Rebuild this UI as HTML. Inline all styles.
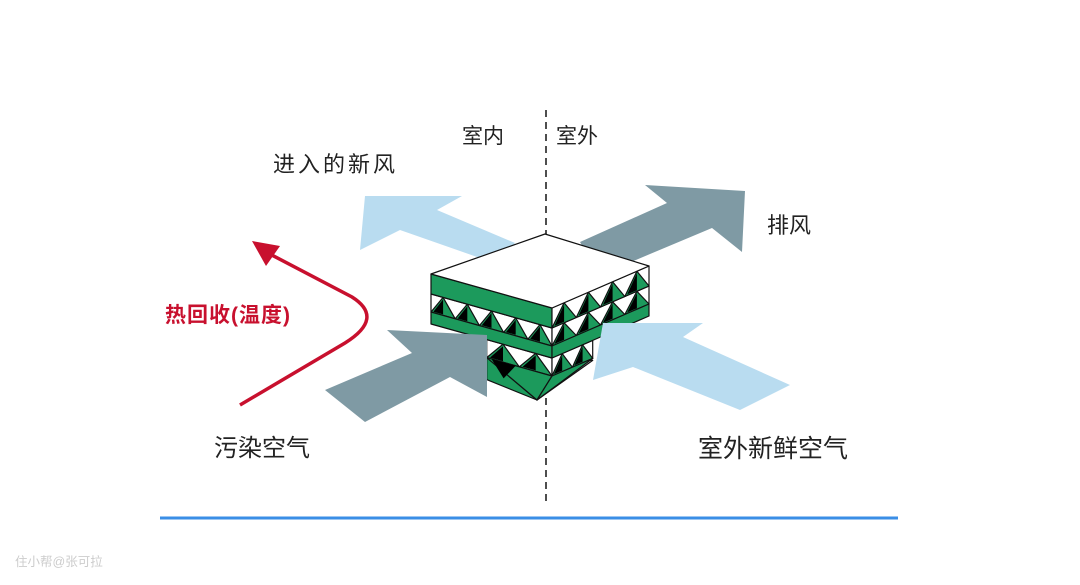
<!DOCTYPE html>
<html><head><meta charset="utf-8"><style>
html,body{margin:0;padding:0;background:#fff;}
svg{display:block}
text{font-family:"Liberation Sans","Noto Sans CJK SC",sans-serif;}
</style></head><body>
<svg id="s" width="1080" height="585" viewBox="0 0 1080 585" xmlns="http://www.w3.org/2000/svg">
<rect width="1080" height="585" fill="#fff"/>
<line x1="546" y1="110" x2="546" y2="505" stroke="#222" stroke-width="1.6" stroke-dasharray="7,5"/>
<line x1="160" y1="518" x2="898" y2="518" stroke="#3a8ee6" stroke-width="3"/>
<polygon points="365,196 462,196 437,210 515,243 500,265 400,230 360,250" fill="#b9dcf0"/>
<polygon points="580,242 667,203 645,185 745,191 742,252 712,228 600,275" fill="#7f9aa4"/>
<g id="box"></g>
<polygon points="325,390 412,353 387,330 487,335 487,397 450,377 365,422" fill="#7f9aa4"/>
<polygon points="603,323 703,323 683,337 790,385 740,410 633,367 593,380" fill="#b9dcf0"/>
<path d="M240,405 L345,343 Q385,318 352,297 L266,252" fill="none" stroke="#c8102e" stroke-width="3.5"/>
<polygon points="252,241 280,246 266,266" fill="#c8102e"/>
<text x="462" y="143" font-size="21" fill="#222">室内</text>
<text x="556" y="143" font-size="21" fill="#222">室外</text>
<text x="273" y="172" font-size="22" fill="#222" letter-spacing="3">进入的新风</text>
<text x="767" y="233" font-size="22" fill="#222">排风</text>
<text x="165" y="322" font-size="21" fill="#c8102e" font-weight="bold" letter-spacing="1">热回收(温度)</text>
<text x="214" y="456" font-size="24" fill="#222">污染空气</text>
<text x="698" y="457" font-size="25" fill="#222">室外新鲜空气</text>
<text x="15" y="566" font-size="12.5" fill="#ccc">住小帮@张可拉</text>
</svg>
<script>
var g=document.getElementById('box'),NS='http://www.w3.org/2000/svg';
function L(t,d){return [431+121*t,274+34*t+d];}
function R(t,d){return [552+97*t,308-42*t+d];}
function poly(pts,fill,stroke){var p=document.createElementNS(NS,'polygon');p.setAttribute('points',pts.map(function(a){return a[0].toFixed(1)+','+a[1].toFixed(1)}).join(' '));p.setAttribute('fill',fill);if(stroke){p.setAttribute('stroke',stroke);p.setAttribute('stroke-width','1.2');p.setAttribute('stroke-linejoin','round');}g.appendChild(p);}
var G='#1c9a5c';
function band(F,t0,t1,d0,d1,fill){poly([F(t0,d0),F(t1,d0),F(t1,d1),F(t0,d1)],fill,'#111');}
function corr(F,t0,t1,d0,d1,n){band(F,t0,t1,d0,d1,'#fff');var w=(t1-t0)/n;for(var i=0;i<n;i++){var a=t0+i*w,b=a+w,m=a+w/2;poly([F(a,d1),F(m,d0),F(b,d1)],G,'#111');poly([F(a+w*0.1,d1-1),F(m,d0+2),F(m,d1-1)],'#000');}}
poly([L(0.46,70),[537,400],R(0.42,70)],'#fff','#111');
corr(L,0.46,1,50,68,2);corr(R,0,0.42,50,68,2);
poly([L(0.46,68),[537,400],L(0.46,90)],G,'#111');
poly([L(0.46,68),L(1,68),[537,400]],G,'#111');
poly([R(0,68),R(0.42,68),[537,400]],G,'#111');
poly([L(0.5,68),L(0.7,68),L(0.6,84)],'#000');
corr(L,0,1,20,38,5);band(L,0,1,38,50,G);
corr(R,0,1,20,38,4);band(R,0,1,38,50,G);
band(L,0,1,0,20,G);
corr(R,0,1,0,20,4);
poly([[431,274],[545,234],[649,266],[552,308]],'#fff','#111');
</script>
</body></html>
